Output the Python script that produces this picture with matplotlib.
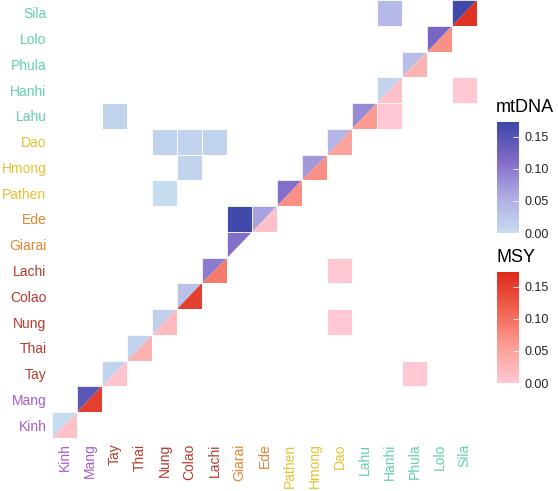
import numpy as np
import matplotlib
matplotlib.use("Agg")
import matplotlib.pyplot as plt
from matplotlib.colors import LinearSegmentedColormap, Normalize
from matplotlib.patches import Polygon, Rectangle
from matplotlib.cm import ScalarMappable

plt.rcParams['font.family'] = ['Liberation Sans', 'DejaVu Sans']

# populations, bottom-to-top / left-to-right
populations = ["Kinh", "Mang", "Tay", "Thai", "Nung", "Colao", "Lachi",
               "Giarai", "Ede", "Pathen", "Hmong", "Dao", "Lahu", "Hanhi",
               "Phula", "Lolo", "Sila"]
label_colors = ["#a75bc8", "#a75bc8",
                "#b43a2e", "#b43a2e", "#b43a2e", "#b43a2e", "#b43a2e",
                "#e0852e", "#e0852e",
                "#e8c12c", "#e8c12c", "#e8c12c",
                "#63cfae", "#63cfae", "#63cfae", "#63cfae", "#63cfae"]

# within-population values (diagonal); None = no data
mt_diag = [0.0, 0.145, 0.01, 0.012, 0.015, 0.03, 0.10, 0.11, 0.065, 0.11,
           0.075, 0.045, 0.085, 0.01, 0.035, 0.12, 0.17]
msy_diag = [0.01, 0.15, 0.005, 0.03, 0.02, 0.15, 0.09, None, 0.01, 0.07,
            0.07, 0.05, 0.06, 0.01, 0.03, 0.07, 0.165]

# between-population values (row, col, value)
mt_pairs = [(8, 7, 0.17), (9, 4, 0.0), (10, 5, 0.01), (11, 4, 0.01),
            (11, 5, 0.01), (11, 6, 0.01), (12, 2, 0.01), (16, 13, 0.04)]
msy_pairs = [(6, 11, 0.0), (4, 11, 0.0), (2, 14, 0.0), (12, 13, 0.0),
             (13, 16, 0.0)]

vmax = 0.173
cmap_mt = LinearSegmentedColormap.from_list(
    "mt", ["#c6dcef", "#aeaae3", "#7e68c6", "#3d47a8"])
cmap_msy = LinearSegmentedColormap.from_list(
    "msy", ["#ffc8d3", "#fc9d94", "#f0604f", "#dc2b1b"])
norm = Normalize(0, vmax)

fig = plt.figure(figsize=(5.58, 4.91), dpi=100)
ax = fig.add_axes([52 / 558, 1 - 438 / 491, 425 / 558, 438 / 491])

n = len(populations)
for i in range(n):
    # upper-left triangle: mtDNA, lower-right: MSY
    if mt_diag[i] is not None:
        ax.add_patch(Polygon([(i, i), (i, i + 1), (i + 1, i + 1)],
                             closed=True, facecolor=cmap_mt(norm(mt_diag[i])),
                             edgecolor='none'))
    if msy_diag[i] is not None:
        ax.add_patch(Polygon([(i, i), (i + 1, i), (i + 1, i + 1)],
                             closed=True, facecolor=cmap_msy(norm(msy_diag[i])),
                             edgecolor='none'))
    ax.add_patch(Rectangle((i, i), 1, 1, facecolor='none',
                           edgecolor='white', linewidth=0.6))

for r, c, v in mt_pairs:
    ax.add_patch(Rectangle((c, r), 1, 1, facecolor=cmap_mt(norm(v)),
                           edgecolor='white', linewidth=0.6))
for r, c, v in msy_pairs:
    ax.add_patch(Rectangle((c, r), 1, 1, facecolor=cmap_msy(norm(v)),
                           edgecolor='white', linewidth=0.6))

ax.set_xlim(0, n)
ax.set_ylim(0, n)
ticks = np.arange(n) + 0.5
ax.set_xticks(ticks)
ax.set_yticks(ticks)
ax.set_xticklabels(populations, rotation=90, fontsize=10)
ax.set_yticklabels(populations, fontsize=10)
for lab, col in zip(ax.get_xticklabels(), label_colors):
    lab.set_color(col)
for lab, col in zip(ax.get_yticklabels(), label_colors):
    lab.set_color(col)
ax.tick_params(length=0, pad=4)
for s in ax.spines.values():
    s.set_visible(False)

# legends
for name, cmap, top in [("mtDNA", cmap_mt, 122), ("MSY", cmap_msy, 272)]:
    cax = fig.add_axes([497 / 558, 1 - (top + 111) / 491, 22 / 558, 111 / 491])
    cb = fig.colorbar(ScalarMappable(norm=norm, cmap=cmap), cax=cax)
    cb.outline.set_visible(False)
    cb.set_ticks([0, 0.05, 0.10, 0.15])
    cb.set_ticklabels(["0.00", "0.05", "0.10", "0.15"])
    cax.tick_params(direction='in', length=4, color='white', width=0.6,
                    labelsize=9, labelcolor='#222222', pad=4)
    fig.text(496 / 558, 1 - (top - 14) / 491, name, fontsize=13,
             ha='left', va='center', color='black')

fig.savefig("out.png", dpi=100)
